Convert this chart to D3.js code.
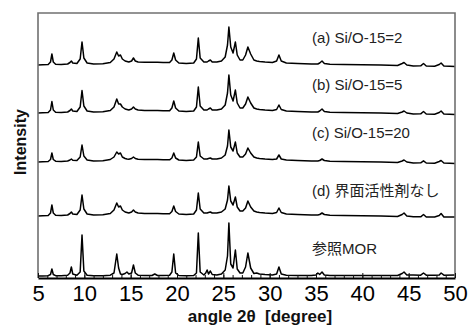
<!DOCTYPE html>
<html><head><meta charset="utf-8">
<script src="https://cdn.jsdelivr.net/npm/d3@7"></script>
<style>
html,body{margin:0;padding:0;background:#fff;}
svg{display:block;}
</style></head>
<body>
<svg id="chart" width="468" height="328"></svg>
<script>
// 2θ angles (degrees) shared by all patterns
const angles = [
  5, 5.5, 6.1, 6.35, 6.5, 6.65, 6.9, 7.5, 8.2, 8.45,
  8.6, 8.75, 9.2, 9.55, 9.75, 9.95, 10.3, 11, 12, 12.8,
  13.2, 13.5, 13.7, 13.9, 14.1, 14.4, 14.6, 14.8, 15.1, 15.3,
  15.5, 15.8, 16.5, 17.3, 17.6, 17.9, 18.5, 19.2, 19.45, 19.65,
  19.85, 20.2, 21, 21.8, 22.1, 22.3, 22.5, 22.9, 23.1, 23.25,
  23.4, 23.6, 23.8, 24.3, 24.8, 25.2, 25.45, 25.6, 25.8, 26.05,
  26.3, 26.5, 26.8, 27.1, 27.4, 27.65, 27.95, 28.3, 28.6, 28.9,
  29.5, 30.3, 30.75, 31, 31.25, 31.8, 33, 34.5, 35.0, 35.2,
  35.4, 35.65, 35.9, 36.5, 38, 40, 42, 43.8, 44.3, 44.5,
  44.8, 45.5, 46.3, 46.6, 46.9, 47.8, 48.3, 48.5, 48.8, 50
];
// intensities (a.u.) for each pattern
const seriesA = [
  0, 0.3, 0.5, 3, 11, 3, 0.8, 0.5, 1, 2.5,
  4, 2, 1.5, 6, 23, 7, 2, 1, 1.2, 2.5,
  6, 13, 9, 10, 6, 4, 3.5, 3, 4, 7,
  4, 3, 2.8, 2.8, 2.8, 2.7, 2.5, 2.5, 5, 12,
  5, 2, 1.5, 2, 6, 27, 7, 3, 3, 3,
  4, 5, 3, 3, 4, 8, 20, 38, 18, 12,
  23, 10, 5, 5, 10, 18, 11, 5, 4, 3.5,
  3, 2.5, 4, 10, 4, 2, 1.5, 1, 1, 1,
  2, 4, 1.5, 0.8, 0.5, 0.3, 0, -0.5, 1.5, 2.5,
  0, -1, -0.8, 1.5, -1, -1.2, 0.5, 2, -1, -1.5
];
const seriesB = [
  0, 0.3, 0.5, 3, 11.5, 3, 0.8, 0.5, 1, 2.5,
  4, 2, 1.5, 6, 22.5, 7, 2, 1, 1.2, 2.5,
  6, 14, 9, 9, 6, 4, 3.5, 3, 4, 6,
  4, 3, 2.5, 2.5, 2.5, 2.4, 2.2, 2.2, 5, 12,
  5, 2, 1.5, 2, 6, 26, 7, 3, 3, 3,
  4, 5, 3, 3, 4, 8, 20, 38, 18, 12,
  23, 10, 5, 5, 9, 16, 10, 5, 4, 3.5,
  3, 2.5, 3.5, 8, 3.5, 2, 1.5, 1, 1, 1,
  2, 4, 1.5, 0.8, 0.5, 0.3, 0, -0.5, 1, 2,
  0, -1, -0.8, 1.5, -1, -1.2, 0.5, 2, -1, -1.5
];
const seriesC = [
  0, 0.3, 0.5, 2.5, 9, 2.5, 0.8, 0.5, 1, 2,
  3, 1.8, 1.5, 5, 17, 6, 2, 1, 1.2, 2.5,
  5, 10, 8, 9, 5, 3.5, 3, 2.8, 3.5, 5,
  3.5, 2.8, 2.5, 2.5, 2.5, 2.4, 2.2, 2.2, 4, 9,
  4, 2, 1.5, 2, 5, 20, 6, 3, 3, 3,
  3.5, 4, 3, 3, 4, 7, 16, 32, 15, 11,
  20, 9, 5, 5, 8, 14, 9, 5, 4, 3.5,
  3, 2.5, 3, 7, 3, 2, 1.5, 1, 1, 1,
  1.5, 3, 1.5, 0.8, 0.5, 0.3, 0, -0.5, 1, 2,
  0, -1, -0.8, 1.2, -1, -1.2, 0.5, 1.5, -1, -1.5
];
const seriesD = [
  0, 0.3, 0.5, 3, 11, 3, 0.8, 0.5, 1, 2.5,
  4, 2, 1.5, 6, 21, 7, 2, 1, 1.2, 2.5,
  6, 13, 9, 10, 6, 4, 3.5, 3, 4, 6,
  4, 3, 2.5, 2.5, 2.5, 2.4, 2.2, 2.2, 4.5, 10,
  4.5, 2, 1.5, 2, 6, 23, 7, 3, 3, 3,
  3.5, 4, 3, 3, 4, 7, 16, 30, 15, 11,
  19, 9, 5, 5, 8, 15, 9, 5, 4, 3.5,
  3, 2.5, 3.5, 8, 3.5, 2, 1.5, 1, 1, 1,
  1.5, 3, 1.5, 0.8, 0.5, 0.3, 0, -0.5, 1.5, 3,
  0, -0.8, -0.8, 1.5, -1, -1, 0.5, 2.5, -1, -1
];
const seriesMOR = [
  0, 0, 0.3, 1.5, 7, 1.5, 0.3, 0.3, 0.8, 3,
  9, 2, 0.8, 4, 41, 5, 0.8, 0.3, 0.3, 0.8,
  3, 22, 8, 2, 1.5, 2.5, 4, 2, 3, 11,
  3, 0.8, 0.5, 0.5, 2, 0.5, 0.5, 0.8, 4, 22,
  3, 0.5, 0.3, 0.5, 3, 43, 4, 1, 3, 6,
  2, 5, 1.5, 1, 2, 6, 20, 53, 12, 8,
  26, 7, 3, 3, 9, 23, 8, 2.5, 3, 2,
  1.5, 1, 2, 9, 2, 0.8, 0.5, 0.5, 1, 3,
  1.5, 4, 1, 0.5, 0.5, 0.5, 0.5, 0.5, 2.5, 4,
  1, 1, 0.8, 3, 0.8, 0.8, 1, 3, 0.8, 1
];
const seriesLabels = ["(a) Si/O-15=2", "(b) Si/O-15=5", "(c) Si/O-15=20", "(d) 界面活性剤なし", "参照MOR"];
const seriesOffsets = [213, 165, 116, 62, 2];   // vertical stacking offsets (a.u.)
const xTicks = [5, 10, 15, 20, 25, 30, 35, 40, 45, 50];
const xMinorTicks = d3.range(5, 51, 1);
const xTitle = "angle 2θ\u00a0\u00a0[degree]";
const yTitle = "Intensity";

const allSeries = [seriesA, seriesB, seriesC, seriesD, seriesMOR];

const m = {left: 38, top: 13, right: 455, bottom: 278};
const svg = d3.select("#chart");

const x = d3.scaleLinear().domain([5, 50]).range([m.left, m.right]);
const y = d3.scaleLinear().domain([0, 265]).range([m.bottom, m.top]);

const line = d3.line()
  .x(d => x(d[0]))
  .y(d => y(d[1]))
  .curve(d3.curveLinear);

// traces
allSeries.forEach((vals, i) => {
  const pts = angles.map((a, j) => [a, vals[j] + seriesOffsets[i]]);
  svg.append("path")
    .attr("d", line(pts))
    .attr("fill", "none")
    .attr("stroke", "#000")
    .attr("stroke-width", 1.5)
    .attr("stroke-linejoin", "round");
});

// frame (gray left/top/right)
svg.append("path")
  .attr("d", `M${m.left},${m.bottom}V${m.top}H${m.right}V${m.bottom}`)
  .attr("fill", "none")
  .attr("stroke", "#707070")
  .attr("stroke-width", 1.6);

// minor ticks
const minor = svg.append("g").attr("transform", `translate(0,${m.bottom})`)
  .call(d3.axisBottom(x).tickValues(xMinorTicks).tickSizeInner(-3).tickSizeOuter(0).tickFormat(""));
minor.select(".domain").remove();
minor.selectAll("line").attr("stroke", "#111").attr("stroke-width", 1);

// major axis
const ax = svg.append("g").attr("transform", `translate(0,${m.bottom})`)
  .call(d3.axisBottom(x).tickValues(xTicks).tickSizeInner(-5).tickSizeOuter(0).tickPadding(7).tickFormat(d3.format("d")));
ax.select(".domain").attr("stroke", "#000").attr("stroke-width", 1.8);
ax.selectAll("line").attr("stroke", "#111").attr("stroke-width", 1);
ax.selectAll("text")
  .attr("font-family", "'Liberation Sans', Arial, sans-serif")
  .attr("font-size", 22)
  .attr("font-weight", 500)
  .attr("fill", "#000");

// axis titles
svg.append("text")
  .attr("x", 260).attr("y", 322)
  .attr("text-anchor", "middle")
  .attr("font-family", "'Liberation Sans', Arial, sans-serif")
  .attr("font-weight", "bold")
  .attr("font-size", 17)
  .attr("fill", "#111")
  .text(xTitle);

svg.append("text")
  .attr("transform", "translate(26,142) rotate(-90)")
  .attr("text-anchor", "middle")
  .attr("font-family", "'Liberation Sans', Arial, sans-serif")
  .attr("font-weight", "bold")
  .attr("font-size", 16)
  .attr("fill", "#111")
  .text(yTitle);

// series labels
const labelY = [43, 90, 138, 196, 254];
seriesLabels.forEach((t, i) => {
  svg.append("text")
    .attr("x", 312).attr("y", labelY[i])
    .attr("font-family", "'Liberation Sans', Arial, 'Noto Sans CJK JP', sans-serif")
    .attr("font-size", 15)
    .attr("fill", "#222")
    .text(t);
});
</script>
</body></html>
